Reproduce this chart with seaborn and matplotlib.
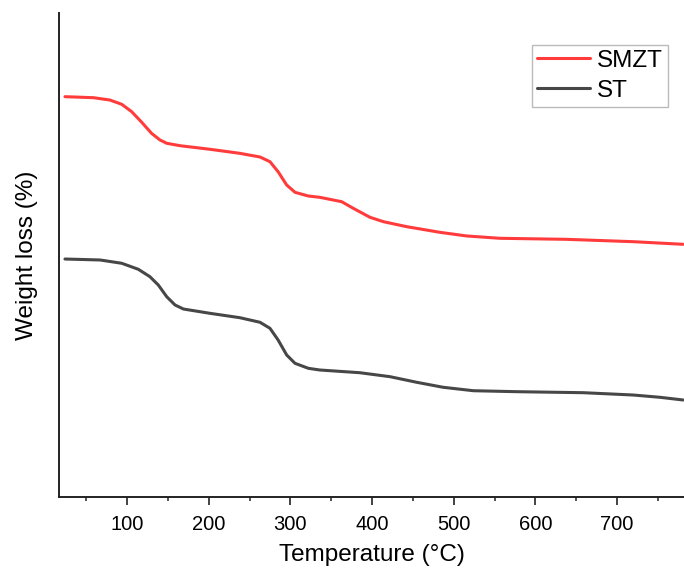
import numpy as np
import pandas as pd
import matplotlib
matplotlib.use("Agg")
import matplotlib.pyplot as plt
from matplotlib.ticker import MultipleLocator
import seaborn as sns

# TGA curves (temperature in °C, relative weight)
smzt_temp = [24, 59, 79, 93.5, 105.7, 118, 130, 140.4, 148.6, 165, 201.6, 238, 262.8,
             275, 285, 295.5, 305.7, 322, 336, 362.9, 377, 397.5, 414, 442.5, 483,
             516, 556.7, 638, 720, 781]
smzt_weight = [82.71, 82.50, 82.02, 81.14, 79.61, 77.42, 75.14, 73.76, 73.08, 72.58,
               71.84, 71.01, 70.25, 69.28, 67.21, 64.46, 62.95, 62.19, 61.92, 61.01,
               59.65, 57.79, 56.88, 55.85, 54.69, 53.93, 53.45, 53.24, 52.75, 52.21]

st_temp = [24, 67, 93.5, 113.8, 128, 138.3, 148.6, 158.8, 169, 201.6, 238, 262.8,
           275, 285, 295.5, 305.7, 322, 336, 385, 422, 454.7, 487, 524, 577, 658.7,
           720, 752.6, 781]
st_weight = [49.17, 48.97, 48.29, 47.05, 45.52, 43.80, 41.38, 39.67, 38.84, 37.95,
             37.05, 36.10, 34.86, 32.44, 29.34, 27.62, 26.59, 26.24, 25.68, 24.86,
             23.70, 22.67, 21.96, 21.76, 21.55, 21.07, 20.60, 20.04]

series_names = ["SMZT", "ST"]
series_colors = ["#ff3b3b", "#474747"]

df = pd.concat([
    pd.DataFrame({"Temperature": smzt_temp, "Weight": smzt_weight, "Sample": "SMZT"}),
    pd.DataFrame({"Temperature": st_temp, "Weight": st_weight, "Sample": "ST"}),
], ignore_index=True)

sns.set_style("white")
plt.rcParams["font.family"] = ["Liberation Sans", "DejaVu Sans"]
plt.rcParams["text.color"] = "black"
plt.rcParams["axes.labelcolor"] = "black"
plt.rcParams["xtick.color"] = "black"

fig = plt.figure(figsize=(6.84, 5.77), dpi=100)
ax = fig.add_axes([59 / 684, 1 - 497 / 577, 1 - 59 / 684, (497 - 13) / 577])

sns.lineplot(data=df, x="Temperature", y="Weight", hue="Sample",
             hue_order=series_names, palette=series_colors,
             estimator=None, sort=False, linewidth=2.2, ax=ax)
for line in ax.get_lines():
    line.set_solid_joinstyle("round")
    line.set_solid_capstyle("round")

ax.set_xlim(16.7, 782)
ax.set_ylim(0, 100)
ax.xaxis.set_major_locator(MultipleLocator(100))
ax.xaxis.set_minor_locator(MultipleLocator(50))
ax.set_yticks([])

for side in ["top", "right"]:
    ax.spines[side].set_visible(False)
for side in ["left", "bottom"]:
    ax.spines[side].set_linewidth(1.4)
    ax.spines[side].set_color("#222222")

ax.tick_params(axis="x", which="major", direction="out", length=5.5, width=1.2,
               color="#222222", labelcolor="black", labelsize=14.5, pad=7.5, bottom=True)
ax.tick_params(axis="x", which="minor", direction="out", length=3, width=1.1,
               color="#222222", bottom=True)

ax.set_xlabel("Temperature (°C)", fontsize=17.5, labelpad=7, color="black")
ax.set_ylabel("Weight loss (%)", fontsize=17.5, labelpad=15, color="black")

leg = ax.legend(loc="upper right", bbox_to_anchor=((668 - 59) / 625, (497 - 45) / 484),
                borderaxespad=0, fontsize=17.5, frameon=True, fancybox=False,
                handlelength=2.2, handletextpad=0.3, borderpad=0.2,
                labelspacing=0.33, title=None)
leg.get_frame().set_edgecolor("#aaaaaa")
leg.get_frame().set_linewidth(1.0)
for t in leg.get_texts():
    t.set_color("black")
for h in leg.get_lines():
    h.set_linewidth(2.2)

fig.savefig("out.png", dpi=100)
